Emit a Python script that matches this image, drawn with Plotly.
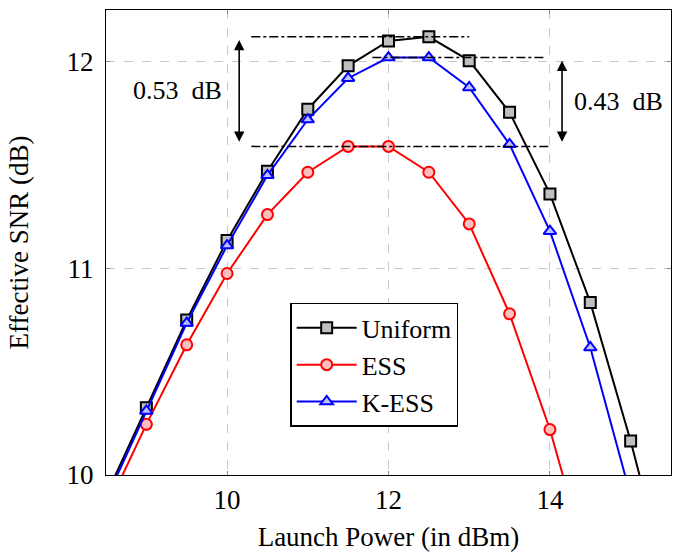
import plotly.graph_objects as go

# Launch power sweep (dBm) and effective SNR (dB) per shaping scheme
power_uniform = [8.5, 9, 9.5, 10, 10.5, 11, 11.5, 12, 12.5, 13, 13.5, 14, 14.5, 15, 15.5]
snr_uniform = [9.90, 10.325, 10.75, 11.135, 11.47, 11.77, 11.98, 12.10, 12.12,
               12.005, 11.755, 11.36, 10.835, 10.165, 9.41]

power_ess = [8.5, 9, 9.5, 10, 10.5, 11, 11.5, 12, 12.5, 13, 13.5, 14, 14.5]
snr_ess = [9.83, 10.245, 10.63, 10.975, 11.26, 11.465, 11.59, 11.59, 11.465,
           11.215, 10.78, 10.22, 9.53]

power_kess = [8.5, 9, 9.5, 10, 10.5, 11, 11.5, 12, 12.5, 13, 13.5, 14, 14.5, 15]
snr_kess = [9.88, 10.31, 10.735, 11.11, 11.45, 11.72, 11.92, 12.02, 12.02,
            11.875, 11.60, 11.18, 10.617, 9.9]

x_ticks = [10, 12, 14]
y_ticks = [10, 11, 12]

# Horizontal reference spans (x start, x end) for the peak markers
span_uniform_peak = [10.3, 13.0]
span_kess_peak = [11.8, 13.93]
span_ess_peak = [10.3, 14.0]
arrow_x_left = 10.15
arrow_x_right = 14.15
label_x_left = 9.38
label_x_right = 14.85

SERIF = "Liberation Serif"
FS = 27

fig = go.Figure()

series = [
    ("Uniform", power_uniform, snr_uniform, "black", "#bfbfbf", "square"),
    ("ESS", power_ess, snr_ess, "red", "#ffbfbf", "circle"),
    ("K-ESS", power_kess, snr_kess, "blue", "#bfbfff", "triangle-up"),
]
for name, xs, ys, col, fill, sym in series:
    fig.add_trace(go.Scatter(
        x=xs, y=ys, name=name, mode="lines+markers",
        line=dict(color=col, width=2),
        marker=dict(symbol=sym, size=11, color=fill,
                    line=dict(color=col, width=2)),
    ))

uni_peak = max(snr_uniform)
kess_peak = max(snr_kess)
ess_peak = max(snr_ess)

for (x0, x1), level in [(span_uniform_peak, uni_peak),
                        (span_kess_peak, kess_peak),
                        (span_ess_peak, ess_peak)]:
    fig.add_trace(go.Scatter(
        x=[x0, x1], y=[level, level], mode="lines", showlegend=False,
        line=dict(color="black", width=1.5, dash="dashdot"),
        hoverinfo="skip",
    ))

# Double-headed arrows showing the SNR gain over ESS
for ax_x, top in [(arrow_x_left, uni_peak), (arrow_x_right, kess_peak)]:
    fig.add_annotation(
        x=ax_x, y=top - 0.015, ax=ax_x, ay=ess_peak + 0.015,
        xref="x", yref="y", axref="x", ayref="y",
        showarrow=True, arrowhead=2, arrowside="end+start",
        arrowsize=1.3, arrowwidth=1.6, arrowcolor="black", text="",
    )

fig.add_annotation(
    x=label_x_left, y=(uni_peak + ess_peak) / 2 + 0.005, xref="x", yref="y",
    text=f"{uni_peak - ess_peak:.2f}  dB", showarrow=False,
    font=dict(family=SERIF, size=FS - 1, color="black"),
)
fig.add_annotation(
    x=label_x_right, y=(kess_peak + ess_peak) / 2, xref="x", yref="y",
    text=f"{kess_peak - ess_peak:.2f}  dB", showarrow=False,
    font=dict(family=SERIF, size=FS - 1, color="black"),
)

axis_common = dict(
    showline=True, linecolor="black", linewidth=1.2, mirror="ticks",
    ticks="inside", ticklen=4, tickcolor="#888888",
    showgrid=True, gridcolor="#c8c8c8", griddash="dash", gridwidth=1,
    zeroline=False,
    tickfont=dict(family=SERIF, size=FS, color="black"),
)

fig.update_xaxes(
    range=[8.5, 15.5], tickvals=x_ticks, automargin=False,
    title=dict(text="Launch Power (in dBm)",
               font=dict(family=SERIF, size=FS, color="black")),
    **axis_common,
)
fig.update_yaxes(
    range=[10, 12.25], tickvals=y_ticks, automargin=True, ticklabelstandoff=6,
    title=dict(text="Effective SNR (dB)", standoff=30,
               font=dict(family=SERIF, size=FS, color="black")),
    **axis_common,
)

fig.update_layout(
    width=681, height=552,
    margin=dict(l=106, r=10, t=10, b=77),
    plot_bgcolor="white", paper_bgcolor="white",
    legend=dict(
        x=0.326, y=0.37, xanchor="left", yanchor="top",
        bgcolor="white", bordercolor="black", borderwidth=1.5,
        font=dict(family=SERIF, size=26, color="black"),
        tracegroupgap=0, itemwidth=60,
    ),
)

fig.write_html("out.html")
